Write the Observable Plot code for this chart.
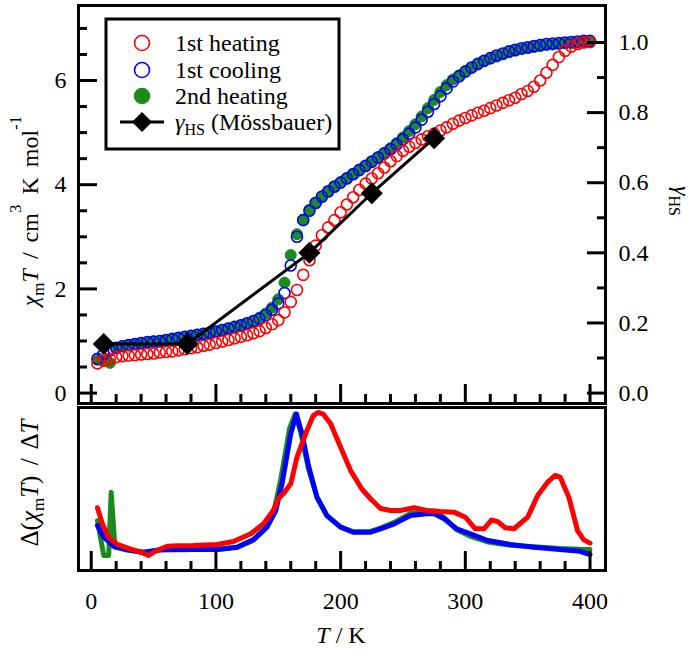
<!DOCTYPE html>
<html><head><meta charset="utf-8">
<script src="https://cdn.jsdelivr.net/npm/d3@7"></script>
<script src="https://cdn.jsdelivr.net/npm/@observablehq/plot@0.6"></script>
<style>
body{margin:0;background:#fff;}
#wrap{position:relative;width:694px;height:649px;overflow:hidden;background:#fff;}
#wrap svg{position:absolute;left:0;}
</style></head><body><div id="wrap"></div>
<script>
// ---------- data ----------
const temps = [5,10,15,20,25,30,35,40,45,50,55,60,65,70,75,80,85,90,95,100,
  105,110,115,120,125,130,135,140,145,150,155,160,165,170,175,180,185,190,195,200,
  205,210,215,220,225,230,235,240,245,250,255,260,265,270,275,280,285,290,295,300,
  305,310,315,320,325,330,335,340,345,350,355,360,365,370,375,380,385,390,395,400];
const heat1 = [0.57,0.62,0.66,0.69,0.71,0.72,0.73,0.74,0.75,0.76,0.78,0.79,0.80,0.82,0.84,0.86,0.88,0.91,0.93,0.96,
  0.99,1.02,1.05,1.08,1.11,1.15,1.19,1.25,1.32,1.40,1.55,1.75,1.98,2.27,2.55,2.83,3.03,3.18,3.32,3.47,
  3.62,3.76,3.90,4.02,4.12,4.22,4.33,4.45,4.55,4.65,4.73,4.80,4.87,4.93,4.98,5.04,5.10,5.17,5.23,5.28,
  5.33,5.38,5.42,5.47,5.52,5.57,5.62,5.67,5.74,5.80,5.88,6.00,6.15,6.30,6.45,6.57,6.65,6.70,6.73,6.74];
const cool1 = [0.66,0.75,0.82,0.87,0.90,0.92,0.94,0.96,0.98,0.99,1.00,1.02,1.04,1.06,1.08,1.10,1.12,1.14,1.16,1.18,
  1.21,1.24,1.27,1.30,1.34,1.38,1.43,1.50,1.60,1.72,1.92,2.45,3.00,3.32,3.50,3.65,3.77,3.87,3.96,4.04,
  4.12,4.20,4.28,4.36,4.44,4.52,4.60,4.68,4.77,4.87,4.98,5.10,5.25,5.40,5.55,5.70,5.85,5.98,6.08,6.17,
  6.25,6.32,6.38,6.43,6.48,6.52,6.56,6.59,6.62,6.64,6.66,6.68,6.70,6.71,6.72,6.73,6.74,6.75,6.76,6.76];
const heat2 = [0.64,0.62,0.58,0.86,0.90,0.92,0.94,0.96,0.97,0.99,1.00,1.02,1.04,1.06,1.08,1.10,1.12,1.14,1.16,1.18,
  1.21,1.24,1.27,1.30,1.34,1.39,1.45,1.53,1.64,1.80,2.12,2.65,3.05,3.33,3.52,3.66,3.78,3.88,3.97,4.05,
  4.13,4.21,4.29,4.37,4.45,4.53,4.61,4.70,4.80,4.91,5.03,5.16,5.31,5.47,5.63,5.78,5.91,6.02,6.10,6.18,
  6.25,6.31,6.37,6.42,6.46,6.50,6.54,6.57,6.60,6.62,6.64,6.66,6.68,6.69,6.70,6.71,6.72,6.73,6.74,6.75];

const mossT = [10, 77, 175, 225, 275];
const mossGamma = [0.14, 0.14, 0.40, 0.57, 0.727];

// derivative curves (arbitrary units, 0..100 across the lower panel)
const dHeat1T = [5,9,14,21,31,40,46,50,55,61,70,82,101,114,128,138,146,150,155,160,165,172,178,182,186,192,200,208,217,224,232,240,248,259,269,280,291,300,308,315,321,326,332,339,350,358,366,372,376,383,390,395,400];
const dHeat1 = [38.5,28.6,20.4,16,13.3,11.2,9.2,11.2,13,14.9,15.2,15.3,16,17.8,22.5,28.6,36.8,44,48,53.2,69.5,84,95,97,96,90,75.6,61.3,50,44,38,36.8,36.8,38.5,36.8,36.2,35.8,32.7,25.6,25.6,31,30,26.2,25.6,32.7,46,54.2,58.3,57.3,45,24.5,18.8,16.8];
const dCool1T = [5,10,18,29,42,56,82,101,117,130,141,148,153,160,164.5,169,174.5,181,189,200,210,224,232,243,256,269,275,283,293,304,318,336,355,376,392,400];
const dCool1 = [27.6,20.4,14.9,12.7,11.2,12.7,12.9,12.9,14.3,18.8,26.6,36.8,53.2,83.9,96,83.9,63.4,45,33.7,26.6,23.5,23.5,25.6,28.6,33.7,34.8,34.8,31.7,25.6,22.5,18.4,16,14.3,12.9,11.8,9.8];
const dHeat2T = [5,10,14,16,19,29,42,56,82,101,117,130,141,147,152,159,163.5,168,174,181,189,200,210,224,232,243,256,269,275,283,293,304,318,336,355,376,392,400];
const dHeat2 = [30.6,9.2,9.2,48,14.3,12.5,11,12.7,12.9,12.9,14.3,18.8,27,38,56,87,96,85,63,45,33.7,26.6,23.8,24,26,29.5,35,36.5,36.5,32.5,25,21,17.5,15.5,14.5,13.5,13,12.9];

// axis ticks
const xMajor = [0,100,200,300,400];
const xMinor = [20,40,60,80,120,140,160,180,220,240,260,280,320,340,360,380];
const yMajor = [0,2,4,6];
const yMinor = [0.5,1,1.5,2.5,3,3.5,4.5,5,5.5,6.5,7];
const gMajor = [0,0.2,0.4,0.6,0.8,1.0];
const gMinor = [0.1,0.3,0.5,0.7,0.9];

const K = 6.73; // chiT value that corresponds to gamma = 1 on the right axis
const xDomain = [-10.2, 412.4];
const FONT = "Liberation Serif";
const RED = "#ff0000", BLUE = "#0000ff", GREEN = "#1b8c1b";

const toRows = (xs, ys) => xs.map((t, i) => ({T: t, v: ys[i]}));
const h1 = toRows(temps, heat1), c1 = toRows(temps, cool1), h2 = toRows(temps, heat2);
const moss = mossT.map((t, i) => ({T: t, g: mossGamma[i]}));
const dh1 = toRows(dHeat1T, dHeat1), dc1 = toRows(dCool1T, dCool1), dh2 = toRows(dHeat2T, dHeat2);

function xTicks(){
  return [
    Plot.axisX(xMajor, {anchor:"bottom", tickSize:19, dy:-19, tickFormat:()=>"", label:null, strokeWidth:3}),
    Plot.axisX(xMinor, {anchor:"bottom", tickSize:9, dy:-9, tickFormat:()=>"", label:null, strokeWidth:3})
  ];
}

const topPlot = Plot.plot({
  width: 694, height: 406,
  marginLeft: 78, marginRight: 89, marginTop: 5, marginBottom: 3,
  style: {background: "transparent", overflow: "visible"},
  x: {domain: xDomain, axis: null},
  y: {domain: [-0.2, 7.44], axis: null},
  marks: [
    Plot.dot(h2, {x:"T", y:"v", r:5.5, fill:GREEN, stroke:GREEN, strokeWidth:1}),
    Plot.dot(c1, {x:"T", y:"v", r:5.5, stroke:BLUE, strokeWidth:1.6}),
    Plot.dot(h1, {x:"T", y:"v", r:5.5, stroke:RED, strokeWidth:1.6}),
    Plot.line(moss, {x:"T", y:d => d.g * K, stroke:"black", strokeWidth:3}),
    Plot.dot(moss, {x:"T", y:d => d.g * K, symbol:"diamond2", r:9.9, fill:"black", stroke:"none"}),
    Plot.axisY(yMajor, {anchor:"left", tickSize:19, dx:19, tickFormat:()=>"", label:null, strokeWidth:3}),
    Plot.axisY(yMinor, {anchor:"left", tickSize:9, dx:9, tickFormat:()=>"", label:null, strokeWidth:3}),
    Plot.axisY(yMajor, {anchor:"left", tickSize:0, tickPadding:12, fontSize:24, fontFamily:FONT, label:null, tickFormat: d => String(d)}),
    Plot.axisY(gMajor.map(g => g * K), {anchor:"right", tickSize:19, dx:-19, tickFormat:()=>"", label:null, strokeWidth:3}),
    Plot.axisY(gMinor.map(g => g * K), {anchor:"right", tickSize:9, dx:-9, tickFormat:()=>"", label:null, strokeWidth:3}),
    Plot.axisY(gMajor.map(g => g * K), {anchor:"right", tickSize:0, tickPadding:13, fontSize:24, fontFamily:FONT, label:null, tickFormat: v => (v / K).toFixed(1)}),
    ...xTicks(),
    Plot.frame({strokeWidth:3})
  ]
});

const botPlot = Plot.plot({
  width: 694, height: 245,
  marginLeft: 78, marginRight: 89, marginTop: 3, marginBottom: 79,
  style: {background: "transparent", overflow: "visible"},
  x: {domain: xDomain, axis: null},
  y: {domain: [0, 100], axis: null},
  marks: [
    Plot.line(dh2, {x:"T", y:"v", stroke:GREEN, strokeWidth:5}),
    Plot.line(dc1, {x:"T", y:"v", stroke:BLUE, strokeWidth:5}),
    Plot.line(dh1, {x:"T", y:"v", stroke:RED, strokeWidth:5}),
    ...xTicks(),
    Plot.axisX(xMajor, {anchor:"bottom", tickSize:0, tickPadding:21, fontSize:24, fontFamily:FONT, label:null, tickFormat: d => String(d)}),
    Plot.frame({strokeWidth:3})
  ]
});

const wrap = document.getElementById("wrap");
topPlot.style.top = "0px";
botPlot.style.top = "404px";
wrap.appendChild(topPlot);
wrap.appendChild(botPlot);

// ---------- titles and legend ----------
function styled(sel, size, anchor){ return sel.attr("font-family", FONT).attr("font-size", size).attr("fill", "black").attr("text-anchor", anchor || "start"); }

const st = d3.select(topPlot);
// left title
const yl = styled(st.append("text"), 24, "middle").attr("transform", "translate(38,211) rotate(-90)").attr("word-spacing", 4);
yl.append("tspan").attr("font-style", "italic").text("χ");
yl.append("tspan").attr("font-size", 17).attr("dy", 6).text("m");
yl.append("tspan").attr("font-style", "italic").attr("dy", -6).text("T");
yl.append("tspan").text(" / cm");
yl.append("tspan").attr("font-size", 17).attr("dy", -17).text("3");
yl.append("tspan").attr("dy", 17).text(" K mol");
yl.append("tspan").attr("font-size", 17).attr("dy", -17).text("-1");
// right title
const yr = styled(st.append("text"), 24, "middle").attr("transform", "translate(674,201) rotate(90)");
yr.append("tspan").attr("font-style", "italic").text("γ");
yr.append("tspan").attr("font-size", 16).attr("dy", 5).text("HS");

// legend
const lg = st.append("g");
lg.append("rect").attr("x", 106).attr("y", 19).attr("width", 233).attr("height", 130)
  .attr("fill", "white").attr("stroke", "black").attr("stroke-width", 3);
const rows = [
  {y: 43, label: "1st heating", kind: "open", color: RED},
  {y: 70, label: "1st cooling", kind: "open", color: BLUE},
  {y: 96, label: "2nd heating", kind: "fill", color: GREEN},
  {y: 122, label: null, kind: "moss", color: "black"}
];
rows.forEach(r => {
  if (r.kind === "moss") {
    lg.append("line").attr("x1", 120).attr("x2", 164).attr("y1", r.y).attr("y2", r.y).attr("stroke", "black").attr("stroke-width", 3);
    lg.append("path").attr("d", d3.symbol(d3.symbolDiamond2, 255)()).attr("transform", `translate(142,${r.y})`).attr("fill", "black");
    const t = styled(lg.append("text"), 24).attr("x", 175).attr("y", r.y + 8);
    t.append("tspan").attr("font-style", "italic").text("γ");
    t.append("tspan").attr("font-size", 16).attr("dy", 5).text("HS");
    t.append("tspan").attr("dy", -5).text(" (Mössbauer)");
  } else {
    lg.append("circle").attr("cx", 142).attr("cy", r.y).attr("r", 7.5)
      .attr("fill", r.kind === "fill" ? r.color : "none").attr("stroke", r.color).attr("stroke-width", 1.6);
    styled(lg.append("text"), 24).attr("x", 175).attr("y", r.y + 8).text(r.label);
  }
});

const sb = d3.select(botPlot);
const bl = styled(sb.append("text"), 25, "middle").attr("transform", "translate(38,79) rotate(-90)").attr("word-spacing", 4);
bl.append("tspan").text("Δ(");
bl.append("tspan").attr("font-style", "italic").text("χ");
bl.append("tspan").attr("font-size", 17).attr("dy", 6).text("m");
bl.append("tspan").attr("font-style", "italic").attr("dy", -6).text("T");
bl.append("tspan").text(") / Δ");
bl.append("tspan").attr("font-style", "italic").text("T");

const xl = styled(sb.append("text"), 24, "middle").attr("x", 341).attr("y", 239);
xl.append("tspan").attr("font-style", "italic").text("T");
xl.append("tspan").text(" / K");
</script>
</body></html>
